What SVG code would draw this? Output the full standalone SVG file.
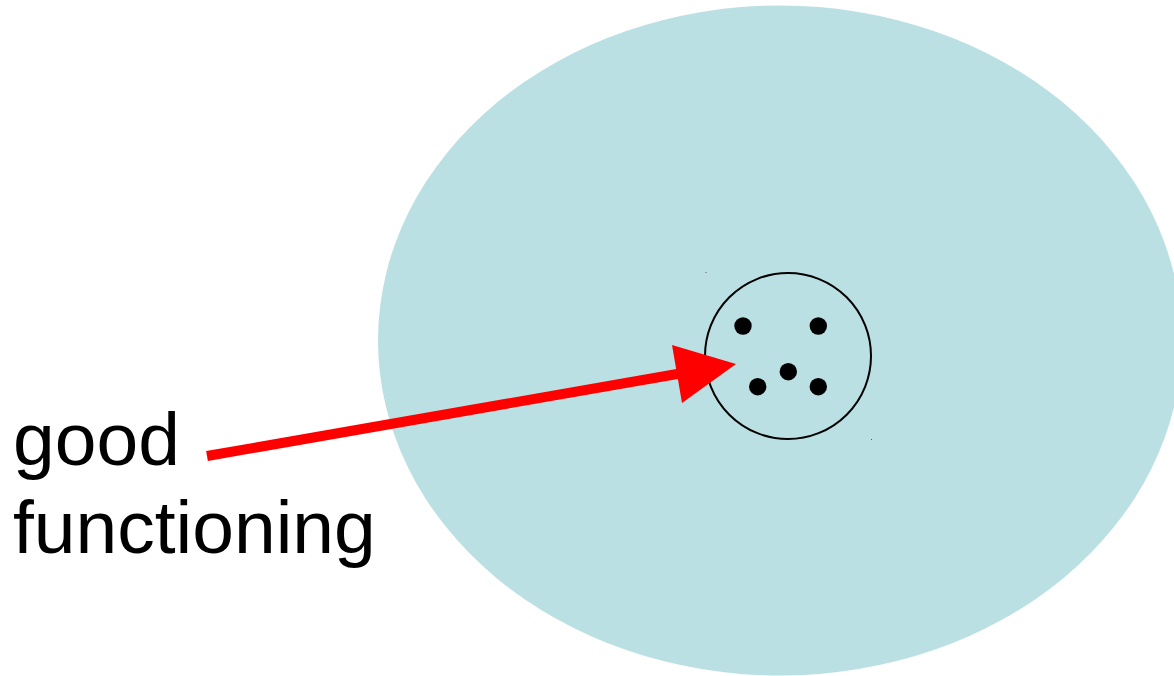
<svg xmlns="http://www.w3.org/2000/svg" width="1174" height="676" viewBox="0 0 1174 676">
<style>
.lbl{font-family:"Liberation Sans",Arial,sans-serif;font-size:75px;fill:#000}
.dot{fill:#000}
</style>
<rect width="1174" height="676" fill="#fff"/>
<g id="region">
<ellipse cx="780" cy="340.5" rx="402" ry="335" fill="#bbe0e3"/>
</g>
<g id="cluster">
<circle cx="788" cy="356" r="83" fill="none" stroke="#000" stroke-width="2"/>
<circle class="dot" cx="743" cy="326" r="8.7"/>
<circle class="dot" cx="818.3" cy="326" r="8.7"/>
<circle class="dot" cx="788.3" cy="371.7" r="8.7"/>
<circle class="dot" cx="757.7" cy="386.7" r="8.7"/>
<circle class="dot" cx="818.3" cy="386.7" r="8.7"/>
<rect x="705.5" y="272" width="1" height="1" fill="#555"/>
<rect x="871" y="439" width="1" height="1" fill="#555"/>
</g>
<g id="label">
<text class="lbl" x="13" y="465">good</text>
<text class="lbl" x="13" y="553">functioning</text>
</g>
<g id="connectors">
<line x1="207" y1="456" x2="680" y2="373.5" stroke="#f00" stroke-width="10"/>
<polygon points="736,364 672,345 682,403" fill="#f00"/>
</g>
</svg>
